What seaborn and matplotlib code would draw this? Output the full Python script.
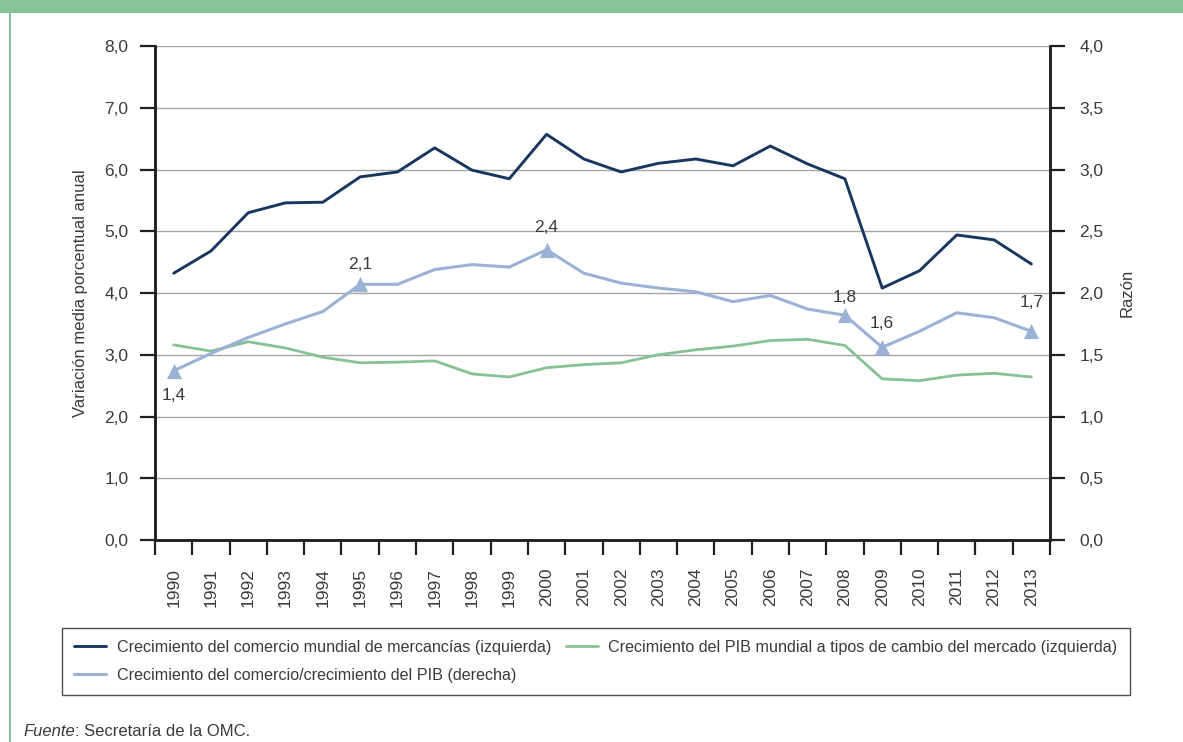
import matplotlib
matplotlib.use("Agg")
import matplotlib.pyplot as plt
import seaborn as sns
import pandas as pd
import numpy as np
from matplotlib.patches import Rectangle
from matplotlib.lines import Line2D

years = list(range(1990, 2014))

# Crecimiento del comercio mundial de mercancías (izquierda)
trade_growth = [4.32, 4.68, 5.30, 5.46, 5.47, 5.88, 5.96, 6.35, 5.99, 5.85, 6.57, 6.17,
                5.96, 6.10, 6.17, 6.06, 6.38, 6.09, 5.85, 4.08, 4.36, 4.94, 4.86, 4.47]
# Crecimiento del PIB mundial (izquierda)
gdp_growth = [3.16, 3.06, 3.21, 3.11, 2.96, 2.87, 2.88, 2.90, 2.69, 2.64, 2.79, 2.84,
              2.87, 3.00, 3.08, 3.14, 3.23, 3.25, 3.15, 2.61, 2.58, 2.67, 2.70, 2.64]
# Razón comercio/PIB (derecha)
ratio = [1.37, 1.51, 1.64, 1.75, 1.85, 2.07, 2.07, 2.19, 2.23, 2.21, 2.35, 2.16,
         2.08, 2.04, 2.01, 1.93, 1.98, 1.87, 1.82, 1.56, 1.69, 1.84, 1.80, 1.69]

marked_years = [1990, 1995, 2000, 2008, 2009, 2013]
marked_labels = ["1,4", "2,1", "2,4", "1,8", "1,6", "1,7"]
label_offsets = [-18, 14, 16, 13, 17, 21]  # points, label above/below marker

legend_labels = [
    "Crecimiento del comercio mundial de mercancías (izquierda)",
    "Crecimiento del PIB mundial a tipos de cambio del mercado (izquierda)",
    "Crecimiento del comercio/crecimiento del PIB (derecha)",
]

c_dark = "#17375e"
c_green = "#86c295"
c_light = "#9bb2d6"
c_text = "#3a3a3a"

df = pd.DataFrame({"year": years, "trade": trade_growth, "gdp": gdp_growth, "ratio": ratio})
df["pos"] = np.arange(len(df))

sns.set_theme(style="white")
plt.rcParams["font.family"] = ["Liberation Sans", "DejaVu Sans"]
plt.rcParams["text.color"] = c_text
plt.rcParams["axes.labelcolor"] = c_text
plt.rcParams["xtick.color"] = "#231f20"
plt.rcParams["ytick.color"] = "#231f20"
plt.rcParams["xtick.labelcolor"] = c_text
plt.rcParams["ytick.labelcolor"] = c_text

fig = plt.figure(figsize=(11.83, 7.42), dpi=100)
W, H = 1183, 742
ax = fig.add_axes([155 / W, 1 - 540 / H, 895 / W, 494 / H])
ax2 = ax.twinx()

# frame decoration
fig.patches.append(Rectangle((0, 1 - 13 / H), 1, 13 / H, transform=fig.transFigure,
                             facecolor="#86c497", edgecolor="none", zorder=0))
fig.lines.append(Line2D([9.5 / W, 9.5 / W], [0, 1 - 13 / H], transform=fig.transFigure,
                        color="#86c497", lw=1.5))

sns.lineplot(data=df, x="pos", y="trade", ax=ax, color=c_dark, lw=2.1, zorder=3)
sns.lineplot(data=df, x="pos", y="gdp", ax=ax, color=c_green, lw=2.0, zorder=3)
sns.lineplot(data=df, x="pos", y="ratio", ax=ax2, color=c_light, lw=2.2, zorder=3)

mk = df[df["year"].isin(marked_years)]
ax2.scatter(mk["pos"], mk["ratio"], marker="^", s=120, color=c_light, zorder=4, linewidths=0)
for (_, row), lab, dy in zip(mk.iterrows(), marked_labels, label_offsets):
    ax2.annotate(lab, (row["pos"], row["ratio"]), xytext=(0, dy), textcoords="offset points",
                 ha="center", va="center", fontsize=12.5, color=c_text)

n = len(years)
ax.set_xlim(-0.5, n - 0.5)
ax.set_ylim(0, 8)
ax2.set_ylim(0, 4)

ax.set_yticks(np.arange(0, 8.01, 1.0))
ax.set_yticklabels([f"{v:.1f}".replace(".", ",") for v in np.arange(0, 8.01, 1.0)], fontsize=12.5)
ax2.set_yticks(np.arange(0, 4.01, 0.5))
ax2.set_yticklabels([f"{v:.1f}".replace(".", ",") for v in np.arange(0, 4.01, 0.5)], fontsize=12.5)

ax.set_xticks(np.arange(-0.5, n, 1.0))
ax.set_xticklabels([])
ax.set_xticks(np.arange(n), minor=True)
ax.set_xticklabels([str(y) for y in years], minor=True, rotation=90, fontsize=12.5)
ax.tick_params(axis="x", which="major", direction="out", length=11, width=1.6, bottom=True)
ax.tick_params(axis="x", which="minor", length=0, pad=20)
ax.tick_params(axis="y", direction="out", length=11, width=1.6, pad=8, left=True)
ax2.tick_params(axis="y", direction="out", length=11, width=1.6, pad=10, right=True)

ax.yaxis.grid(True, color="#a6a6a6", lw=1.0)
ax.xaxis.grid(False)
ax2.grid(False)
ax.set_axisbelow(True)

for a in (ax, ax2):
    a.spines["top"].set_visible(False)
    for s in ("left", "right", "bottom"):
        a.spines[s].set_color("#231f20")
        a.spines[s].set_linewidth(1.8)

ax.set_xlabel("")
ax.set_ylabel("Variación media porcentual anual", fontsize=12)
ax.yaxis.set_label_coords((88 - 155) / 895, 0.5)
ax2.set_ylabel("Razón", fontsize=12)
ax2.yaxis.set_label_coords((1120 - 155) / 895, 0.5)

handles = [Line2D([], [], color=c_dark, lw=2.1),
           Line2D([], [], color=c_light, lw=2.2),
           Line2D([], [], color=c_green, lw=2.0)]
labels = [legend_labels[0], legend_labels[2], legend_labels[1]]
leg = fig.legend(handles, labels, loc="upper left", bbox_to_anchor=(62 / W, 1 - 628 / H),
                 ncol=2, fontsize=11.6, frameon=True, fancybox=False, handlelength=2.0,
                 handletextpad=0.65, columnspacing=0.9, labelspacing=0.8,
                 borderpad=0.75, borderaxespad=0)
leg.get_frame().set_edgecolor("#231f20")
leg.get_frame().set_linewidth(1.0)

t1 = fig.text(23 / W, 1 - 732 / H, "Fuente", fontsize=12, style="italic", va="center", color=c_text)
fig.canvas.draw()
bb = t1.get_window_extent()
fig.text(bb.x1 / W, 1 - 732 / H, ": Secretaría de la OMC.", fontsize=12, va="center", color=c_text)

fig.savefig("out.png", dpi=100)
plt.close(fig)
